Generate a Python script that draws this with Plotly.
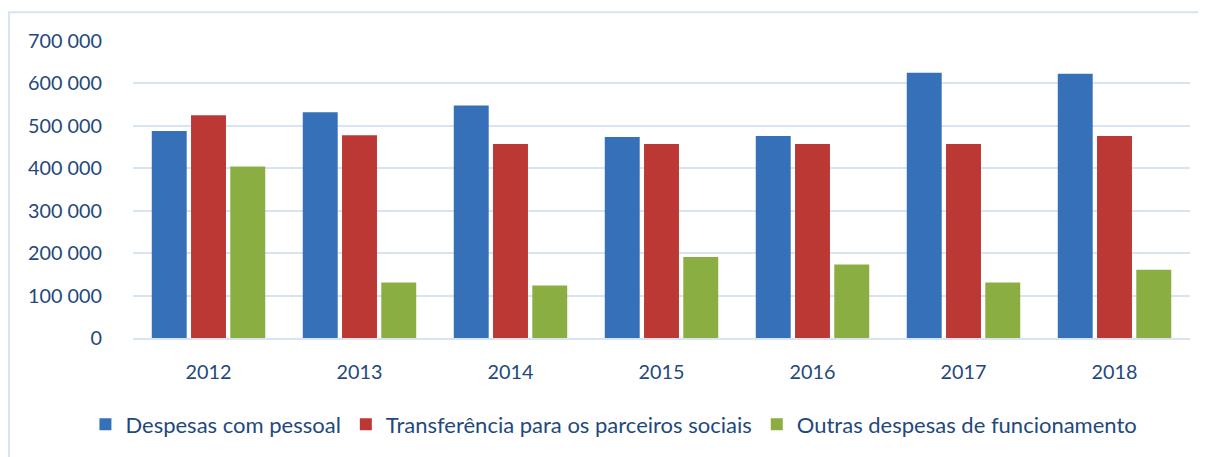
import plotly.graph_objects as go

years = ["2012", "2013", "2014", "2015", "2016", "2017", "2018"]
despesas_pessoal = [488000, 532000, 548000, 474000, 476000, 625000, 623000]
transferencia = [525000, 478000, 457000, 457000, 457000, 457000, 476000]
outras_despesas = [404000, 131000, 124000, 191000, 173000, 131000, 161000]

series_names = ["Despesas com pessoal", "Transferência para os parceiros sociais", "Outras despesas de funcionamento"]
series_values = [despesas_pessoal, transferencia, outras_despesas]
colors = ["#3670B8", "#BB3834", "#8BAE42"]

tick_vals = [0, 100000, 200000, 300000, 400000, 500000, 600000, 700000]
tick_text = ["0", "100 000", "200 000", "300 000", "400 000", "500 000", "600 000", "700 000"]

FONT = "Lato, 'Open Sans', sans-serif"
TXT = "#1F497D"
GRID = "#D9E4F3"
TICK_FS = 19.8

fig = go.Figure()
for name, vals, col in zip(series_names, series_values, colors):
    fig.add_trace(go.Bar(x=years, y=vals, name=name, marker=dict(color=col, line=dict(width=0))))

fig.update_layout(
    width=1198, height=449,
    margin=dict(l=125, r=16, t=33, b=116),
    paper_bgcolor="white", plot_bgcolor="white",
    barmode="group", bargap=0.22, bargroupgap=0.11,
    font=dict(family=FONT, size=TICK_FS, color=TXT),
    legend=dict(orientation="h", x=0.455, xanchor="center", y=-0.22, yanchor="top",
                font=dict(family=FONT, size=22, color=TXT), itemwidth=30,
                traceorder="normal"),
    showlegend=True,
)
fig.update_yaxes(range=[0, 700000], tickvals=tick_vals, ticktext=tick_text,
                 showgrid=True, gridcolor=GRID, gridwidth=2, zeroline=False,
                 showline=False, ticks="", ticklabelstandoff=30,
                 tickfont=dict(family=FONT, size=TICK_FS, color=TXT))
fig.update_xaxes(showline=True, linecolor=GRID, linewidth=2, ticks="",
                 tickfont=dict(family=FONT, size=TICK_FS, color=TXT), ticklabelstandoff=15)
fig.add_shape(type="rect", xref="paper", yref="paper",
              x0=-124/1057, x1=1.2, y0=-0.6, y1=1 + 29/300,
              line=dict(color="#D6E3F3", width=2), fillcolor="rgba(0,0,0,0)", layer="below")

fig.write_html("out.html")
